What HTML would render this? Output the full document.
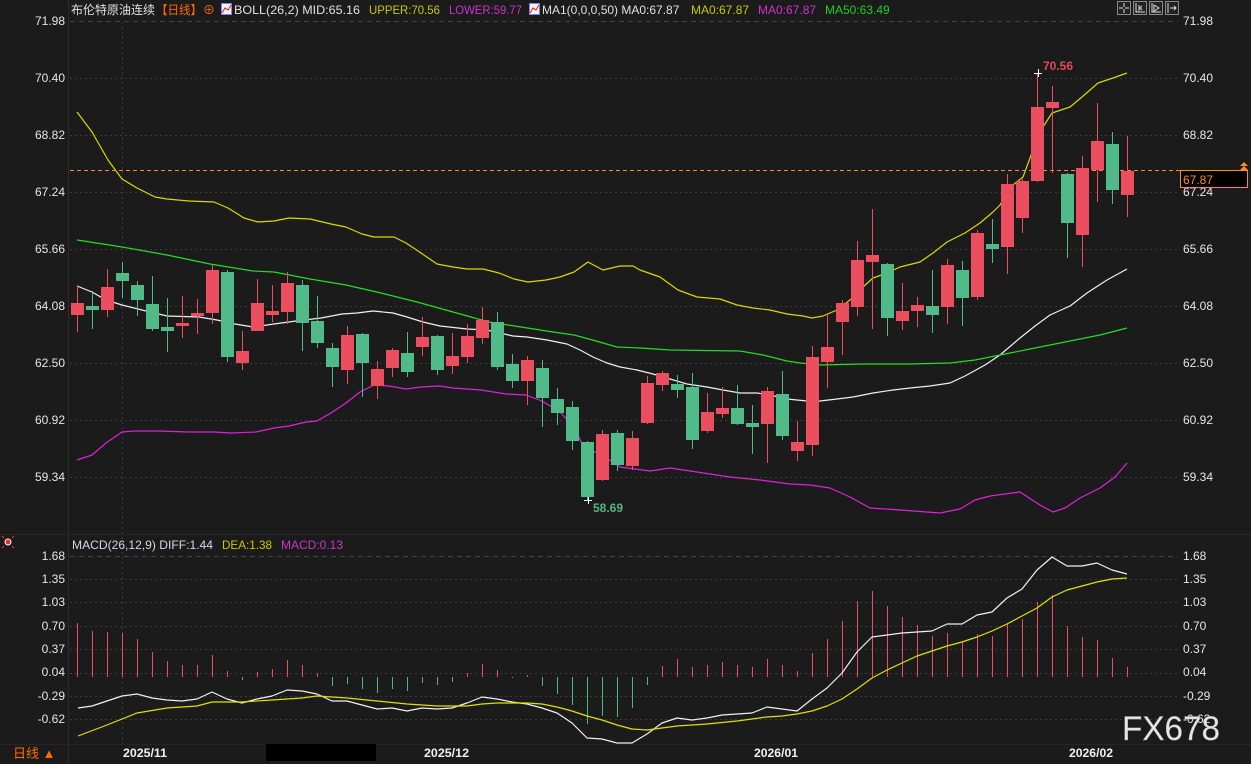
<!DOCTYPE html>
<html><head><meta charset="utf-8"><style>
html,body{margin:0;padding:0;background:#1b1b1b;}
svg{display:block;}
text{font-family:"Liberation Sans","Noto Sans CJK SC",sans-serif;}
</style></head><body>
<svg width="1251" height="764" viewBox="0 0 1251 764" xmlns="http://www.w3.org/2000/svg">
<rect x="0" y="0" width="1251" height="764" fill="#1b1b1b"/>
<!-- frame lines -->
<line x1="68.5" y1="0" x2="68.5" y2="764" stroke="#2c2c2c" stroke-width="1"/>
<line x1="0" y1="534.5" x2="1251" y2="534.5" stroke="#262626" stroke-width="1"/>
<line x1="0" y1="744.5" x2="1251" y2="744.5" stroke="#262626" stroke-width="1"/>
<!-- main grid -->
<g stroke="#3a3a3a" stroke-width="1" stroke-dasharray="2,3">
<line x1="70" y1="78.5" x2="1178" y2="78.5"/>
<line x1="70" y1="135.5" x2="1178" y2="135.5"/>
<line x1="70" y1="192.5" x2="1178" y2="192.5"/>
<line x1="70" y1="249.5" x2="1178" y2="249.5"/>
<line x1="70" y1="306.5" x2="1178" y2="306.5"/>
<line x1="70" y1="363.5" x2="1178" y2="363.5"/>
<line x1="70" y1="420.5" x2="1178" y2="420.5"/>
<line x1="70" y1="477.5" x2="1178" y2="477.5"/>
<line x1="70" y1="579.5" x2="1178" y2="579.5"/>
<line x1="70" y1="602.5" x2="1178" y2="602.5"/>
<line x1="70" y1="626.5" x2="1178" y2="626.5"/>
<line x1="70" y1="649.5" x2="1178" y2="649.5"/>
<line x1="70" y1="673.5" x2="1178" y2="673.5"/>
<line x1="70" y1="696.5" x2="1178" y2="696.5"/>
<line x1="70" y1="719.5" x2="1178" y2="719.5"/>
<line x1="122.5" y1="22" x2="122.5" y2="744"/>
</g>
<g stroke="#444" stroke-width="1" stroke-dasharray="5,4">
<line x1="70" y1="21.5" x2="1178" y2="21.5"/>
<line x1="70" y1="556.5" x2="1178" y2="556.5"/>
</g>

<!-- axis labels -->
<g font-size="12" fill="#e6e6e6" text-anchor="end">
<text x="65" y="25">71.98</text>
<text x="65" y="82">70.40</text>
<text x="65" y="139">68.82</text>
<text x="65" y="196">67.24</text>
<text x="65" y="253">65.66</text>
<text x="65" y="310">64.08</text>
<text x="65" y="367">62.50</text>
<text x="65" y="424">60.92</text>
<text x="65" y="481">59.34</text>
<text x="65" y="560">1.68</text>
<text x="65" y="583">1.35</text>
<text x="65" y="606">1.03</text>
<text x="65" y="630">0.70</text>
<text x="65" y="653">0.37</text>
<text x="65" y="676">0.04</text>
<text x="65" y="700">-0.29</text>
<text x="65" y="723">-0.62</text>
</g>
<g font-size="12" fill="#e6e6e6">
<text x="1183" y="25">71.98</text>
<text x="1183" y="82">70.40</text>
<text x="1183" y="139">68.82</text>
<text x="1183" y="196">67.24</text>
<text x="1183" y="253">65.66</text>
<text x="1183" y="310">64.08</text>
<text x="1183" y="367">62.50</text>
<text x="1183" y="424">60.92</text>
<text x="1183" y="481">59.34</text>
<text x="1183" y="560">1.68</text>
<text x="1183" y="583">1.35</text>
<text x="1183" y="606">1.03</text>
<text x="1183" y="630">0.70</text>
<text x="1183" y="653">0.37</text>
<text x="1183" y="676">0.04</text>
<text x="1183" y="700">-0.29</text>
<text x="1183" y="723">-0.62</text>
</g>

<!-- BOLL / MA lines -->
<g fill="none" stroke-width="1.2" stroke-linejoin="round">
<polyline stroke="#d8d800" points="77,112 92,132 108,160 122,179 137,188 155,197 167,199 189,201 214,202 228,208 244,218 258,222 274,221 289,218 310,219 331,224 346,227 362,234 374,237 394,237 406,243 421,253 437,264 453,267 467,269 483,269 499,273 514,279 528,282 546,280 560,277 574,272 588,262 603,270 620,266 633,266 640,270 660,277 678,290 697,297 720,299 737,305 753,308 770,310 787,314 803,316 812,318 823,316 837,310 850,300 863,287 873,278 887,273 900,267 920,262 933,253 947,242 965,233 980,223 993,212 1000,205 1013,185 1023,177 1033,150 1043,127 1052,113 1070,107 1082,97 1098,83 1113,78 1127,73"/>
<polyline stroke="#f0f0f0" points="77,286 92,292 106,300 122,305 146,311 167,316 199,317 217,320 235,324 253,327 274,324 296,321 321,318 342,314 357,313 373,311 393,313 407,317 423,322 440,326 467,329 487,330 500,333 513,336 527,337 547,340 567,344 580,350 593,357 607,363 620,367 637,370 653,374 670,379 687,384 707,387 723,390 740,393 757,393 770,395 787,399 807,401 820,401 837,399 853,397 873,393 893,390 910,388 930,386 950,383 965,376 985,365 1000,355 1020,338 1035,326 1050,315 1070,306 1087,293 1107,280 1127,269"/>
<polyline stroke="#22dd22" points="77,240 122,247 167,255 210,264 253,271 274,272 310,279 346,285 381,293 417,302 453,312 489,322 521,327 553,332 574,335 589,339 617,347 640,348 670,350 740,351 763,355 787,361 800,363 820,365 865,364 910,364 950,363 975,360 1000,355 1030,349 1050,345 1075,340 1100,335 1127,328"/>
<polyline stroke="#dd22dd" points="77,460 92,455 106,443 122,432 135,431 158,431 189,432 214,432 231,433 256,432 274,428 289,426 306,422 317,421 331,413 346,403 360,392 374,385 389,386 406,389 421,387 439,386 453,388 481,390 506,394 526,395 542,401 560,412 574,427 585,450 599,453 620,467 650,471 670,468 690,471 730,477 760,480 790,484 810,485 830,488 850,497 870,508 900,510 940,513 960,509 975,500 990,496 1020,492 1040,505 1053,512 1065,508 1080,498 1100,488 1115,477 1127,463"/>
</g>

<!-- current price line -->
<line x1="70" y1="170.5" x2="1180" y2="170.5" stroke="#ff8c1a" stroke-width="1" stroke-dasharray="4,3"/>

<!-- red candles -->
<g fill="#eb4e5e">
<rect x="77" y="285" width="1" height="47"/><rect x="71" y="303" width="13" height="12"/>
<rect x="107" y="269" width="1" height="48"/><rect x="101" y="287" width="13" height="23"/>
<rect x="182" y="296" width="1" height="42"/><rect x="176" y="323" width="13" height="3"/>
<rect x="197" y="299" width="1" height="35"/><rect x="191" y="313" width="13" height="3"/>
<rect x="212" y="265" width="1" height="59"/><rect x="206" y="270" width="13" height="43"/>
<rect x="242" y="331" width="1" height="39"/><rect x="236" y="351" width="13" height="12"/>
<rect x="257" y="279" width="1" height="52"/><rect x="251" y="303" width="13" height="28"/>
<rect x="272" y="285" width="1" height="37"/><rect x="266" y="311" width="13" height="4"/>
<rect x="287" y="272" width="1" height="52"/><rect x="281" y="283" width="13" height="29"/>
<rect x="347" y="326" width="1" height="58"/><rect x="341" y="335" width="13" height="35"/>
<rect x="377" y="361" width="1" height="38"/><rect x="371" y="369" width="13" height="17"/>
<rect x="392" y="348" width="1" height="29"/><rect x="386" y="350" width="13" height="18"/>
<rect x="422" y="317" width="1" height="39"/><rect x="416" y="337" width="13" height="10"/>
<rect x="452" y="333" width="1" height="41"/><rect x="446" y="356" width="13" height="10"/>
<rect x="467" y="324" width="1" height="39"/><rect x="461" y="336" width="13" height="21"/>
<rect x="482" y="307" width="1" height="37"/><rect x="476" y="320" width="13" height="18"/>
<rect x="527" y="356" width="1" height="49"/><rect x="521" y="360" width="13" height="21"/>
<rect x="602" y="430" width="1" height="51"/><rect x="596" y="434" width="13" height="46"/>
<rect x="632" y="431" width="1" height="39"/><rect x="626" y="438" width="13" height="28"/>
<rect x="647" y="376" width="1" height="48"/><rect x="641" y="383" width="13" height="40"/>
<rect x="662" y="371" width="1" height="20"/><rect x="656" y="373" width="13" height="12"/>
<rect x="707" y="393" width="1" height="40"/><rect x="701" y="412" width="13" height="19"/>
<rect x="722" y="387" width="1" height="31"/><rect x="716" y="408" width="13" height="6"/>
<rect x="767" y="387" width="1" height="76"/><rect x="761" y="391" width="13" height="33"/>
<rect x="797" y="421" width="1" height="40"/><rect x="791" y="442" width="13" height="9"/>
<rect x="812" y="346" width="1" height="110"/><rect x="806" y="357" width="13" height="88"/>
<rect x="827" y="313" width="1" height="75"/><rect x="821" y="347" width="13" height="15"/>
<rect x="842" y="300" width="1" height="55"/><rect x="836" y="303" width="13" height="19"/>
<rect x="857" y="241" width="1" height="75"/><rect x="851" y="260" width="13" height="47"/>
<rect x="872" y="209" width="1" height="120"/><rect x="866" y="255" width="13" height="7"/>
<rect x="902" y="283" width="1" height="47"/><rect x="896" y="311" width="13" height="10"/>
<rect x="917" y="297" width="1" height="30"/><rect x="911" y="305" width="13" height="6"/>
<rect x="947" y="259" width="1" height="65"/><rect x="941" y="265" width="13" height="42"/>
<rect x="977" y="230" width="1" height="70"/><rect x="971" y="233" width="13" height="64"/>
<rect x="1007" y="174" width="1" height="100"/><rect x="1001" y="184" width="13" height="63"/>
<rect x="1022" y="179" width="1" height="54"/><rect x="1016" y="181" width="13" height="37"/>
<rect x="1037" y="73" width="1" height="109"/><rect x="1031" y="107" width="13" height="74"/>
<rect x="1052" y="86" width="1" height="87"/><rect x="1046" y="102" width="13" height="6"/>
<rect x="1082" y="156" width="1" height="111"/><rect x="1076" y="168" width="13" height="67"/>
<rect x="1097" y="103" width="1" height="99"/><rect x="1091" y="141" width="13" height="29"/>
<rect x="1127" y="136" width="1" height="81"/><rect x="1121" y="171" width="13" height="24"/>
</g>
<!-- green candles -->
<g fill="#50ba89">
<rect x="92" y="291" width="1" height="38"/><rect x="86" y="306" width="13" height="4"/>
<rect x="122" y="262" width="1" height="36"/><rect x="116" y="273" width="13" height="8"/>
<rect x="137" y="281" width="1" height="35"/><rect x="131" y="285" width="13" height="15"/>
<rect x="152" y="276" width="1" height="55"/><rect x="146" y="304" width="13" height="25"/>
<rect x="167" y="298" width="1" height="54"/><rect x="161" y="327" width="13" height="4"/>
<rect x="227" y="270" width="1" height="92"/><rect x="221" y="272" width="13" height="85"/>
<rect x="302" y="280" width="1" height="71"/><rect x="296" y="285" width="13" height="38"/>
<rect x="317" y="296" width="1" height="52"/><rect x="311" y="321" width="13" height="22"/>
<rect x="332" y="343" width="1" height="44"/><rect x="326" y="348" width="13" height="19"/>
<rect x="362" y="333" width="1" height="64"/><rect x="356" y="334" width="13" height="29"/>
<rect x="407" y="332" width="1" height="45"/><rect x="401" y="353" width="13" height="19"/>
<rect x="437" y="335" width="1" height="40"/><rect x="431" y="336" width="13" height="34"/>
<rect x="497" y="312" width="1" height="58"/><rect x="491" y="322" width="13" height="45"/>
<rect x="512" y="354" width="1" height="34"/><rect x="506" y="364" width="13" height="17"/>
<rect x="542" y="360" width="1" height="67"/><rect x="536" y="368" width="13" height="30"/>
<rect x="557" y="388" width="1" height="37"/><rect x="551" y="399" width="13" height="14"/>
<rect x="572" y="401" width="1" height="49"/><rect x="566" y="407" width="13" height="34"/>
<rect x="587" y="441" width="1" height="60"/><rect x="581" y="442" width="13" height="55"/>
<rect x="617" y="430" width="1" height="41"/><rect x="611" y="433" width="13" height="32"/>
<rect x="677" y="375" width="1" height="23"/><rect x="671" y="384" width="13" height="6"/>
<rect x="692" y="373" width="1" height="76"/><rect x="686" y="387" width="13" height="53"/>
<rect x="737" y="385" width="1" height="40"/><rect x="731" y="408" width="13" height="16"/>
<rect x="752" y="405" width="1" height="49"/><rect x="746" y="423" width="13" height="4"/>
<rect x="782" y="371" width="1" height="69"/><rect x="776" y="394" width="13" height="42"/>
<rect x="887" y="263" width="1" height="73"/><rect x="881" y="264" width="13" height="54"/>
<rect x="932" y="270" width="1" height="63"/><rect x="926" y="306" width="13" height="9"/>
<rect x="962" y="261" width="1" height="65"/><rect x="956" y="270" width="13" height="28"/>
<rect x="992" y="219" width="1" height="44"/><rect x="986" y="244" width="13" height="5"/>
<rect x="1067" y="173" width="1" height="85"/><rect x="1061" y="174" width="13" height="49"/>
<rect x="1112" y="132" width="1" height="72"/><rect x="1106" y="144" width="13" height="46"/>
</g>

<!-- high/low annotations -->
<g stroke="#ffffff" stroke-width="1">
<line x1="1034" y1="73.5" x2="1042" y2="73.5"/><line x1="1038.5" y1="69" x2="1038.5" y2="77"/>
<line x1="584" y1="500.5" x2="592" y2="500.5"/><line x1="588.5" y1="497" x2="588.5" y2="504"/>
</g>
<text x="1043" y="70" font-size="12" fill="#e04b5a" font-weight="bold">70.56</text>
<text x="593" y="512" font-size="12" fill="#4fb585" font-weight="bold">58.69</text>

<!-- current price box -->
<rect x="1180.5" y="170.5" width="67" height="17" fill="#000" stroke="#ff8c1a" stroke-width="1"/>
<text x="1183" y="184" font-size="12" fill="#ff8c1a">67.87</text>
<path d="M1240,166 L1244,162 L1248,166 Z M1240,170 L1244,166 L1248,170 Z" fill="#ff8c1a"/>

<!-- MACD bars -->
<g fill="#e8505f">
<rect x="77" y="623" width="1" height="54"/>
<rect x="92" y="631" width="1" height="46"/>
<rect x="107" y="632" width="1" height="45"/>
<rect x="122" y="633" width="1" height="44"/>
<rect x="137" y="639" width="1" height="38"/>
<rect x="152" y="652" width="1" height="25"/>
<rect x="167" y="661" width="1" height="16"/>
<rect x="182" y="665" width="1" height="12"/>
<rect x="197" y="665" width="1" height="12"/>
<rect x="212" y="655" width="1" height="22"/>
<rect x="227" y="671" width="1" height="6"/>
<rect x="257" y="672" width="1" height="5"/>
<rect x="272" y="669" width="1" height="8"/>
<rect x="287" y="660" width="1" height="17"/>
<rect x="302" y="665" width="1" height="12"/>
<rect x="317" y="673" width="1" height="4"/>
<rect x="467" y="673" width="1" height="4"/>
<rect x="482" y="664" width="1" height="13"/>
<rect x="497" y="670" width="1" height="7"/>
<rect x="527" y="675" width="1" height="2"/>
<rect x="662" y="666" width="1" height="11"/>
<rect x="677" y="659" width="1" height="18"/>
<rect x="692" y="667" width="1" height="10"/>
<rect x="707" y="665" width="1" height="12"/>
<rect x="722" y="662" width="1" height="15"/>
<rect x="737" y="665" width="1" height="12"/>
<rect x="752" y="667" width="1" height="10"/>
<rect x="767" y="659" width="1" height="18"/>
<rect x="782" y="665" width="1" height="12"/>
<rect x="797" y="671" width="1" height="6"/>
<rect x="812" y="653" width="1" height="24"/>
<rect x="827" y="639" width="1" height="38"/>
<rect x="842" y="621" width="1" height="56"/>
<rect x="857" y="601" width="1" height="76"/>
<rect x="872" y="591" width="1" height="86"/>
<rect x="887" y="606" width="1" height="71"/>
<rect x="902" y="617" width="1" height="60"/>
<rect x="917" y="625" width="1" height="52"/>
<rect x="932" y="636" width="1" height="41"/>
<rect x="947" y="633" width="1" height="44"/>
<rect x="962" y="642" width="1" height="35"/>
<rect x="977" y="634" width="1" height="43"/>
<rect x="992" y="636" width="1" height="41"/>
<rect x="1007" y="624" width="1" height="53"/>
<rect x="1022" y="619" width="1" height="58"/>
<rect x="1037" y="602" width="1" height="75"/>
<rect x="1052" y="595" width="1" height="82"/>
<rect x="1067" y="626" width="1" height="51"/>
<rect x="1082" y="637" width="1" height="40"/>
<rect x="1097" y="640" width="1" height="37"/>
<rect x="1112" y="658" width="1" height="19"/>
<rect x="1127" y="667" width="1" height="10"/>
</g>
<g fill="#4fb786">
<rect x="242" y="677" width="1" height="3"/>
<rect x="332" y="677" width="1" height="9"/>
<rect x="347" y="677" width="1" height="7"/>
<rect x="362" y="677" width="1" height="12"/>
<rect x="377" y="677" width="1" height="16"/>
<rect x="392" y="677" width="1" height="12"/>
<rect x="407" y="677" width="1" height="14"/>
<rect x="422" y="677" width="1" height="6"/>
<rect x="437" y="677" width="1" height="8"/>
<rect x="452" y="677" width="1" height="5"/>
<rect x="512" y="677" width="1" height="1"/>
<rect x="542" y="677" width="1" height="9"/>
<rect x="557" y="677" width="1" height="17"/>
<rect x="572" y="677" width="1" height="28"/>
<rect x="587" y="677" width="1" height="47"/>
<rect x="602" y="677" width="1" height="39"/>
<rect x="617" y="677" width="1" height="40"/>
<rect x="632" y="677" width="1" height="31"/>
<rect x="647" y="677" width="1" height="8"/>
</g>

<!-- DIFF / DEA -->
<g fill="none" stroke-width="1.2" stroke-linejoin="round">
<polyline stroke="#f0f0f0" points="78,708 92,706 107,701 122,696 137,694 152,698 167,700 182,701 197,699 212,692 227,699 242,703 257,699 272,696 287,690 302,691 317,694 332,701 347,701 362,705 377,709 392,708 407,711 422,708 437,709 452,708 467,703 482,697 497,699 512,702 527,704 542,708 557,713 572,723 587,738 602,739 617,743 632,743 647,734 662,723 677,718 692,720 707,718 722,715 737,714 752,713 767,707 782,709 797,711 812,699 827,688 842,673 857,652 872,637 887,635 902,633 917,632 932,631 947,624 962,624 977,615 992,612 1007,598 1022,589 1037,570 1052,557 1067,566 1082,566 1097,563 1112,570 1127,574"/>
<polyline stroke="#e0e000" points="78,736 107,725 137,713 167,708 197,706 212,702 242,702 272,700 302,698 317,696 347,698 377,701 407,704 437,706 467,706 482,704 497,703 527,703 542,704 557,707 572,711 587,716 602,720 617,725 632,729 647,730 662,728 677,726 707,724 737,721 752,719 767,717 782,716 797,714 812,711 827,706 842,699 857,689 872,678 887,670 902,663 917,656 947,646 962,642 977,637 992,631 1007,624 1022,616 1037,608 1052,597 1067,590 1082,586 1097,582 1112,579 1127,578"/>
</g>

<!-- top legend -->
<g font-size="12">
<text x="71" y="14" fill="#e0e0e0" textLength="84" lengthAdjust="spacingAndGlyphs">布伦特原油连续</text>
<text x="156" y="14" fill="#ff6a00" textLength="46" lengthAdjust="spacingAndGlyphs">【日线】</text>
<text x="203" y="14" fill="#ff6a00">⊕</text>
<rect x="221.5" y="3.5" width="10" height="11" fill="#f4f4f4" stroke="#8080ff" stroke-width="1"/>
<polyline points="222,13 225,8 228,10 231,5" fill="none" stroke="#e02020" stroke-width="1"/>
<text x="234" y="14" fill="#e0e0e0" textLength="126" lengthAdjust="spacingAndGlyphs">BOLL(26,2) MID:65.16</text>
<text x="369" y="14" fill="#c8c800" textLength="71" lengthAdjust="spacingAndGlyphs">UPPER:70.56</text>
<text x="449" y="14" fill="#cc33cc" textLength="73" lengthAdjust="spacingAndGlyphs">LOWER:59.77</text>
<rect x="529.5" y="3.5" width="10" height="11" fill="#f4f4f4" stroke="#8080ff" stroke-width="1"/>
<polyline points="530,13 533,8 536,10 539,5" fill="none" stroke="#e02020" stroke-width="1"/>
<text x="542" y="14" fill="#e0e0e0">MA1(0,0,0,50) MA0:67.87</text>
<text x="691" y="14" fill="#c8c800">MA0:67.87</text>
<text x="758" y="14" fill="#cc33cc">MA0:67.87</text>
<text x="825" y="14" fill="#22cc22">MA50:63.49</text>
</g>

<!-- top-right buttons -->
<g stroke="#8a8a8a" stroke-width="1" fill="#222">
<rect x="1117.5" y="1.5" width="13" height="13"/>
<rect x="1133.5" y="1.5" width="13" height="13"/>
<rect x="1149.5" y="1.5" width="13" height="13"/>
<rect x="1165.5" y="1.5" width="13" height="13"/>
</g>
<g stroke="#e0e0e0" stroke-width="1" fill="none">
<path d="M1124,3 V7 M1124,9 V13 M1119,8 H1123 M1125,8 H1129"/>
<path d="M1136,3 V12 H1145 M1139,5 V11 M1142,6 L1140,8 L1142,10"/>
<path d="M1152,3 V12 H1161 M1154,5 L1159,8 L1154,11 Z"/>
<path d="M1168,3 V13 M1170,8 H1176 M1174,6 L1176,8 L1174,10"/>
</g>

<!-- MACD header -->
<circle cx="8" cy="542" r="3" fill="#ff2020" stroke="#fff" stroke-width="1"/>
<g stroke="#ff3030" stroke-width="1">
<line x1="2" y1="536" x2="4" y2="538"/><line x1="14" y1="536" x2="12" y2="538"/>
<line x1="2" y1="548" x2="4" y2="546"/><line x1="14" y1="548" x2="12" y2="546"/>
</g>
<g font-size="12">
<text x="72" y="549" fill="#d0d8e8" textLength="141" lengthAdjust="spacingAndGlyphs">MACD(26,12,9) DIFF:1.44</text>
<text x="222" y="549" fill="#c8c800" textLength="50" lengthAdjust="spacingAndGlyphs">DEA:1.38</text>
<text x="281" y="549" fill="#cc33cc" textLength="62" lengthAdjust="spacingAndGlyphs">MACD:0.13</text>
</g>

<!-- bottom axis -->
<rect x="266" y="744" width="110" height="17" fill="#000"/>
<g font-size="12" fill="#f0f0f0" font-weight="bold">
<text x="123" y="757" textLength="44" lengthAdjust="spacingAndGlyphs">2025/11</text>
<text x="424" y="757" textLength="45" lengthAdjust="spacingAndGlyphs">2025/12</text>
<text x="754" y="757" textLength="44" lengthAdjust="spacingAndGlyphs">2026/01</text>
<text x="1069" y="757" textLength="44" lengthAdjust="spacingAndGlyphs">2026/02</text>
</g>
<text x="13" y="758" font-size="13" fill="#ff6a00">日线 ▲</text>

<!-- watermark -->
<text x="1122" y="740" font-size="34" fill="#e6e6e6" textLength="98" lengthAdjust="spacingAndGlyphs" stroke="#999" stroke-width="0.4">FX678</text>
</svg>
</body></html>
